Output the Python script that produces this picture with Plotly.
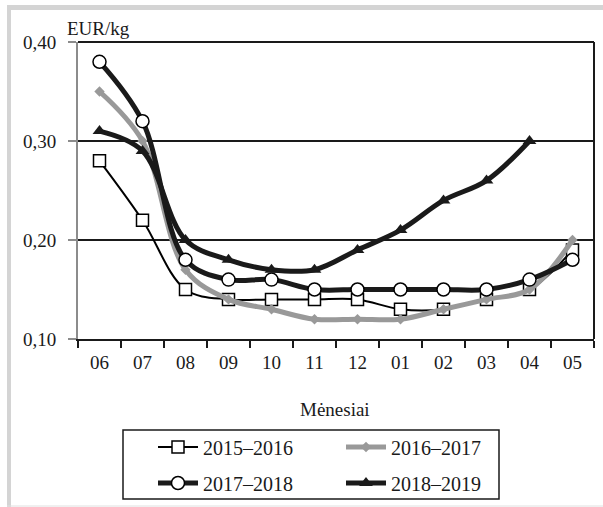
import plotly.graph_objects as go

months = ['06', '07', '08', '09', '10', '11', '12', '01', '02', '03', '04', '05']

p_2015_2016 = [0.28, 0.22, 0.15, 0.14, 0.14, 0.14, 0.14, 0.13, 0.13, 0.14, 0.15, 0.19]
p_2016_2017 = [0.35, 0.30, 0.17, 0.14, 0.13, 0.12, 0.12, 0.12, 0.13, 0.14, 0.15, 0.20]
p_2017_2018 = [0.38, 0.32, 0.18, 0.16, 0.16, 0.15, 0.15, 0.15, 0.15, 0.15, 0.16, 0.18]
p_2018_2019 = [0.31, 0.29, 0.20, 0.18, 0.17, 0.17, 0.19, 0.21, 0.24, 0.26, 0.30, None]

y_ticks = [0.10, 0.20, 0.30, 0.40]
y_tick_text = ['0,10', '0,20', '0,30', '0,40']

FONT = 'Liberation Serif, Times New Roman, serif'
W, H = 603, 507
L, R, T, B = 78, 9, 42, 168
SMOOTH = 1.0


def px_x(x):
    return (x - L) / (W - L - R)


def px_y(y):
    return (H - B - y) / (H - T - B)


fig = go.Figure()

fig.add_trace(go.Scatter(
    x=months, y=p_2015_2016, name='2015–2016', mode='lines+markers',
    line=dict(color='black', width=2, shape='spline', smoothing=SMOOTH),
    marker=dict(symbol='square', size=12, color='white', line=dict(color='black', width=1.5)),
    legend='legend'))
fig.add_trace(go.Scatter(
    x=months, y=p_2016_2017, name='2016–2017', mode='lines+markers',
    line=dict(color='#999999', width=5, shape='spline', smoothing=SMOOTH),
    marker=dict(symbol='diamond', size=8, color='#999999'),
    legend='legend'))
fig.add_trace(go.Scatter(
    x=months, y=p_2017_2018, name='2017–2018', mode='lines+markers',
    line=dict(color='#1a1a1a', width=5, shape='spline', smoothing=SMOOTH),
    marker=dict(symbol='circle', size=13, color='white', line=dict(color='black', width=1.5)),
    legend='legend2'))
fig.add_trace(go.Scatter(
    x=months, y=p_2018_2019, name='2018–2019', mode='lines+markers',
    line=dict(color='#1a1a1a', width=5, shape='spline', smoothing=SMOOTH),
    marker=dict(symbol='triangle-up', size=12, color='#1a1a1a'),
    legend='legend2'))

shapes = [
    # outer light frame
    dict(type='rect', xref='paper', yref='paper', x0=px_x(7), x1=px_x(603), y0=px_y(5), y1=px_y(10),
         fillcolor='#d4d4d4', line=dict(width=0), layer='below'),
    dict(type='rect', xref='paper', yref='paper', x0=px_x(7), x1=px_x(11), y0=px_y(5), y1=px_y(507),
         fillcolor='#d4d4d4', line=dict(width=0), layer='below'),
    dict(type='line', xref='paper', yref='paper', x0=px_x(7), x1=px_x(603), y0=px_y(506), y1=px_y(506),
         line=dict(color='#e0e0e0', width=1)),
    # right and top border of plot
    dict(type='line', xref='paper', yref='paper', x0=1, x1=1, y0=0, y1=1,
         line=dict(color='#1a1a1a', width=2)),
    dict(type='line', xref='paper', yref='paper', x0=0, x1=1, y0=1, y1=1,
         line=dict(color='#1a1a1a', width=2)),
    # legend box
    dict(type='rect', xref='paper', yref='paper', x0=px_x(123), x1=px_x(499), y0=px_y(430), y1=px_y(499),
         line=dict(color='#1a1a1a', width=1.5)),
]

legend_common = dict(orientation='h', xanchor='left', yanchor='middle', xref='container', yref='container',
                     entrywidth=133, entrywidthmode='pixels',
                     font=dict(family=FONT, size=20, color='#1a1a1a'),
                     bgcolor='rgba(0,0,0,0)', borderwidth=0, itemwidth=40)

fig.update_layout(
    width=W, height=H,
    margin=dict(l=L, r=R, t=T, b=B, autoexpand=False),
    paper_bgcolor='white', plot_bgcolor='white',
    font=dict(family=FONT, size=19, color='#1a1a1a'),
    showlegend=True,
    legend=dict(x=153 / W, y=1 - 447 / H, **legend_common),
    legend2=dict(x=153 / W, y=1 - 483 / H, **legend_common),
    shapes=shapes,
    annotations=[
        dict(text='EUR/kg', xref='paper', yref='paper', x=px_x(65), y=px_y(28),
             xanchor='left', yanchor='middle', showarrow=False, font=dict(family=FONT, size=19)),
        dict(text='Mėnesiai', xref='paper', yref='paper', x=px_x(335), y=px_y(409),
             xanchor='center', yanchor='middle', showarrow=False, font=dict(family=FONT, size=19)),
    ],
)

fig.update_xaxes(
    type='category', range=[-0.5, 11.5], showline=True, linecolor='#1a1a1a', linewidth=2,
    ticks='outside', tickson='boundaries', ticklen=7, tickcolor='#1a1a1a', tickwidth=2,
    showgrid=False, zeroline=False, tickfont=dict(family=FONT, size=19), ticklabelstandoff=5,
)
fig.update_yaxes(
    range=[0.1, 0.4], tickvals=y_ticks, ticktext=y_tick_text, showline=True,
    linecolor='#8c8c8c', linewidth=2, ticks='outside', ticklen=8, tickcolor='#8c8c8c', tickwidth=2,
    showgrid=True, gridcolor='#1a1a1a', gridwidth=1.5, zeroline=False,
    tickfont=dict(family=FONT, size=19), ticklabelstandoff=8,
)

fig.write_html('out.html', config={'displayModeBar': False},
               post_script="document.body.style.margin='0';")
